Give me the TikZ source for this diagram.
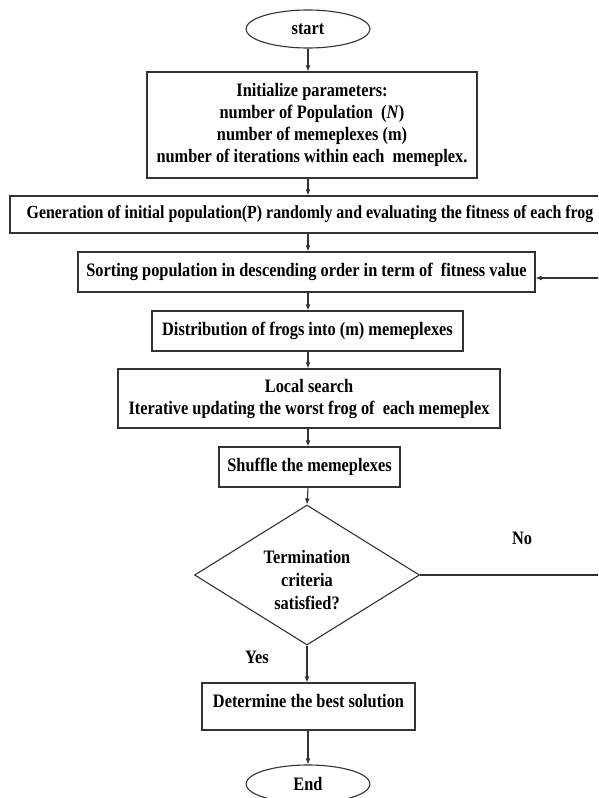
\documentclass[tikz,border=0pt]{standalone}
\usepackage{fontspec}
\setmainfont{Liberation Serif}[FakeStretch=0.86]
\usetikzlibrary{shapes.geometric,arrows.meta,calc}

\tikzset{
  line/.style={draw=black!80, line width=1.1pt},
  flow/.style={line, -{Latex[length=6pt,width=5pt]}},
  procbox/.style={line, rectangle, inner sep=2pt, align=center,
    font=\fontsize{19}{22}\selectfont\bfseries},
  terminal/.style={line, ellipse, inner sep=0pt, minimum width=124, minimum height=38,
    font=\fontsize{19}{22}\selectfont\bfseries},
  decision/.style={line, diamond, aspect=1.6, inner sep=0pt, minimum width=225, minimum height=140},
  decisiontext/.style={align=center, font=\fontsize{19}{23}\selectfont\bfseries},
  tag/.style={font=\fontsize{19}{22}\selectfont\bfseries}
}

\begin{document}
\begin{tikzpicture}[x=1pt, y=-1pt]
\useasboundingbox (0,0) rectangle (598,798);
\clip (0,0) rectangle (598,798);
\fill[white] (0,0) rectangle (598,798);

% vertical axis shared by the main flow arrows
\coordinate (axis) at (308,0);

% terminals and process steps
\node[terminal] (start) at (308,29) {start};
\node[procbox, minimum width=330, minimum height=106] (init) at (312,125)
  {Initialize parameters:\\ number of Population\ \ (\textit{N})\\ number of memeplexes (m)\\ number of iterations within each\ \ memeplex.};
\node[procbox, minimum width=600, minimum height=37, font=\fontsize{18.5}{22}\selectfont\bfseries] (gen) at (310,214.5)
  {Generation of initial population(P) randomly and evaluating the fitness of each frog};
\node[procbox, minimum width=457, minimum height=40] (sort) at (306.5,272)
  {Sorting population in descending order in term of\ \ fitness value};
\node[procbox, minimum width=311, minimum height=40] (dist) at (307.5,331)
  {Distribution of frogs into (m) memeplexes};
\node[procbox, minimum width=382, minimum height=59] (local) at (309,398.5)
  {Local search\\ Iterative updating the worst frog of\ \ each memeplex};
\node[procbox, minimum width=181, minimum height=40] (shuffle) at (309.5,467)
  {Shuffle the memeplexes};
\node[decision] (term) at (307,575) {};
\node[decisiontext] (termtext) at (307,580) {Termination\\ criteria\\ satisfied?};
\node[procbox, minimum width=213, minimum height=47, text depth=12pt] (best) at (308.5,706.5)
  {Determine the best solution};
\node[terminal] (end) at (308,784) {End};

% branch labels
\node[tag] (no) at (522,538) {No};
\node[tag] (yes) at (257,657) {Yes};

% main flow
\draw[flow] (start.south -| axis) -- (init.north -| axis);
\draw[flow] (init.south -| axis) -- (gen.north -| axis);
\draw[flow] (gen.south -| axis) -- (sort.north -| axis);
\draw[flow] (sort.south -| axis) -- (dist.north -| axis);
\draw[flow] (dist.south -| axis) -- (local.north -| axis);
\draw[flow] (local.south -| axis) -- (shuffle.north -| axis);
\draw[flow] (shuffle.south -| axis) -- (term.north);
\draw[flow] (term.south) -- (best.north -| term);
\draw[flow] (best.south -| axis) -- (end.north -| axis);

% loop back when the criteria are not met
\coordinate (loop) at (620,575);
\draw[flow] (term.east) -- (loop) |- ($(sort.east)+(0,6)$);
\end{tikzpicture}
\end{document}
